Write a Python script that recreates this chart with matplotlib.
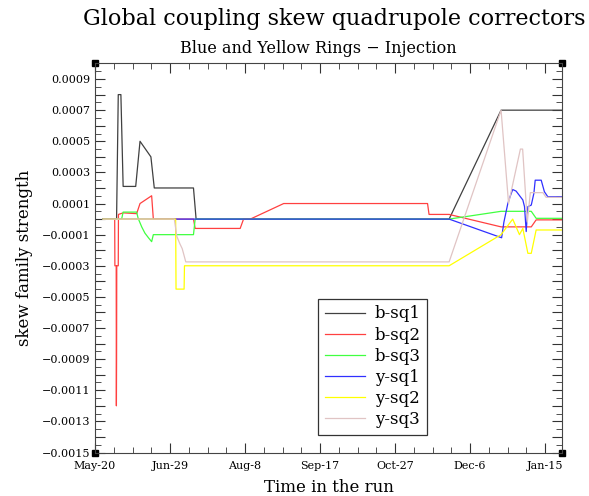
import numpy as np
import matplotlib
matplotlib.use("Agg")
import matplotlib.pyplot as plt

plt.rcParams['font.family'] = ['DejaVu Serif']

# days counted from May-20
b_sq1_days = [4.3, 11.5, 12.4, 13.8, 15.0, 21.7, 24.0, 29.8, 31.6, 52.5, 53.9, 188.8, 216.5, 249]
b_sq1_vals = [0, 0, 0.0008, 0.0008, 0.00021, 0.00021, 0.0005, 0.0004, 0.0002, 0.0002, 0, 0, 0.0007, 0.0007]

b_sq2_days = [4.3, 10.5, 10.6, 11.3, 11.4, 11.5, 11.6, 12.4, 12.5, 15.0, 22.2, 24.0, 30.2, 31.1,
              52.5, 53.4, 77.4, 79.2, 82.8, 100.6, 177.3, 178.1, 188.8, 216.5, 232.6, 235.2, 249]
b_sq2_vals = [0, 0, -0.0003, -0.0003, -0.0012, -0.0009, -0.0003, -0.0003, 0.00003, 0.00004, 0.000035,
              0.0001, 0.00015, 0, 0, -0.00006, -0.00006, 0, 0, 0.0001, 0.0001, 0.00003, 0.00003,
              -0.00005, -0.00005, -0.000005, -0.000005]

b_sq3_days = [4.3, 14.2, 15.0, 22.2, 23.0, 24.9, 26.6, 28.5, 30.2, 31.1, 52.5, 53.4, 188.8, 216.5, 232.6, 235.2, 249]
b_sq3_vals = [0, 0, 0.000045, 0.000045, 0.000005, -0.00005, -0.00009, -0.00012, -0.000145, -0.0001,
              -0.0001, 0, 0, 0.00005, 0.00005, 0.000005, 0.000005]

y_sq1_days = [4.3, 188.8, 216.8, 218.0, 220.1, 221.3, 222.7, 224.5, 228.1, 229.0, 229.9, 230.8, 232.6,
              234.0, 234.7, 237.9, 239.6, 241.4, 249]
y_sq1_vals = [0, 0, -0.00012, -0.00002, 0.0001, 0.000144, 0.00019, 0.00018, 0.000123, 0.00008, -0.00008,
              0.00008, 0.00009, 0.000166, 0.00025, 0.00025, 0.000176, 0.000144, 0.000144]

y_sq2_days = [4.3, 43.0, 43.2, 47.5, 47.7, 188.8, 216.5, 222.7, 226.3, 228.1, 230.8, 232.6, 235.2, 249]
y_sq2_vals = [0, 0, -0.00045, -0.00045, -0.0003, -0.0003, -0.0001, 0.0, -0.0001, -0.00006, -0.00022,
              -0.00022, -0.00007, -0.00007]

y_sq3_days = [4.3, 42.3, 43.6, 45.3, 46.5, 48.4, 188.8, 216.5, 220.5, 226.8, 228.0, 230.5, 232.1, 238.8, 240.5, 249]
y_sq3_vals = [0, 0, -0.00011, -0.00016, -0.00019, -0.000275, -0.000275, 0.0007, 0.0001, 0.00045, 0.00045,
              -0.00002, 0.00017, 0.00017, 0.00014, 0.00014]

x_tick_days = [0, 40, 80, 120, 160, 200, 240]
x_tick_labels = ['May-20', 'Jun-29', 'Aug-8', 'Sep-17', 'Oct-27', 'Dec-6', 'Jan-15']

series = [
    ('b-sq1', b_sq1_days, b_sq1_vals, '#404040'),
    ('b-sq2', b_sq2_days, b_sq2_vals, '#ff4040'),
    ('b-sq3', b_sq3_days, b_sq3_vals, '#40ff40'),
    ('y-sq1', y_sq1_days, y_sq1_vals, '#3030ff'),
    ('y-sq2', y_sq2_days, y_sq2_vals, '#ffff00'),
    ('y-sq3', y_sq3_days, y_sq3_vals, '#e0c4c4'),
]

fig = plt.figure(figsize=(5.89, 4.96), dpi=100)
ax = fig.add_axes([0.1613, 0.0877, 0.7929, 0.7843])

for name, d, v, c in series:
    ax.plot(d, v, color=c, lw=0.9, label=name)

ax.set_xlim(0, 249)
ax.set_ylim(-0.0015, 0.001)

ax.set_xticks(x_tick_days)
ax.set_xticklabels(x_tick_labels)
ax.set_xticks(np.arange(0, 250, 10), minor=True)

yt = np.round(np.arange(-0.0015, 0.00095, 0.0001), 5)
ax.set_yticks(yt)
ax.set_yticklabels([('%.4f' % t).replace('-', '\u2212') if round(t * 1e4) % 2 else '' for t in yt])
ax.set_yticks(np.arange(-0.0015, 0.001, 0.00005), minor=True)

ax.tick_params(which='both', direction='in', top=True, right=True, labelsize=8, color='#333333')
ax.tick_params(which='major', length=7)
ax.tick_params(which='minor', length=4)
ax.tick_params(axis='x', which='major', pad=6)
for s in ax.spines.values():
    s.set_color('#444444')

# corner squares
ax.plot([0, 1, 0, 1], [0, 0, 1, 1], 's', color='black', ms=5, transform=ax.transAxes, clip_on=False)

ax.set_ylabel('skew family strength', fontsize=12, labelpad=6)
ax.set_xlabel('Time in the run', fontsize=12, labelpad=6)

fig.text(0.567, 0.962, 'Global coupling skew quadrupole correctors', fontsize=16, ha='center', va='center')
fig.text(0.54, 0.902, 'Blue and Yellow Rings \u2212 Injection', fontsize=11.5, ha='center', va='center')

leg = ax.legend(loc='lower left', bbox_to_anchor=(0.4775, 0.045), fontsize=12, frameon=True,
                fancybox=False, edgecolor='black', borderaxespad=0, handlelength=2.4,
                handletextpad=0.6, labelspacing=0.25, borderpad=0.4)
leg.get_frame().set_linewidth(0.9)

fig.savefig('out.png', dpi=100)
